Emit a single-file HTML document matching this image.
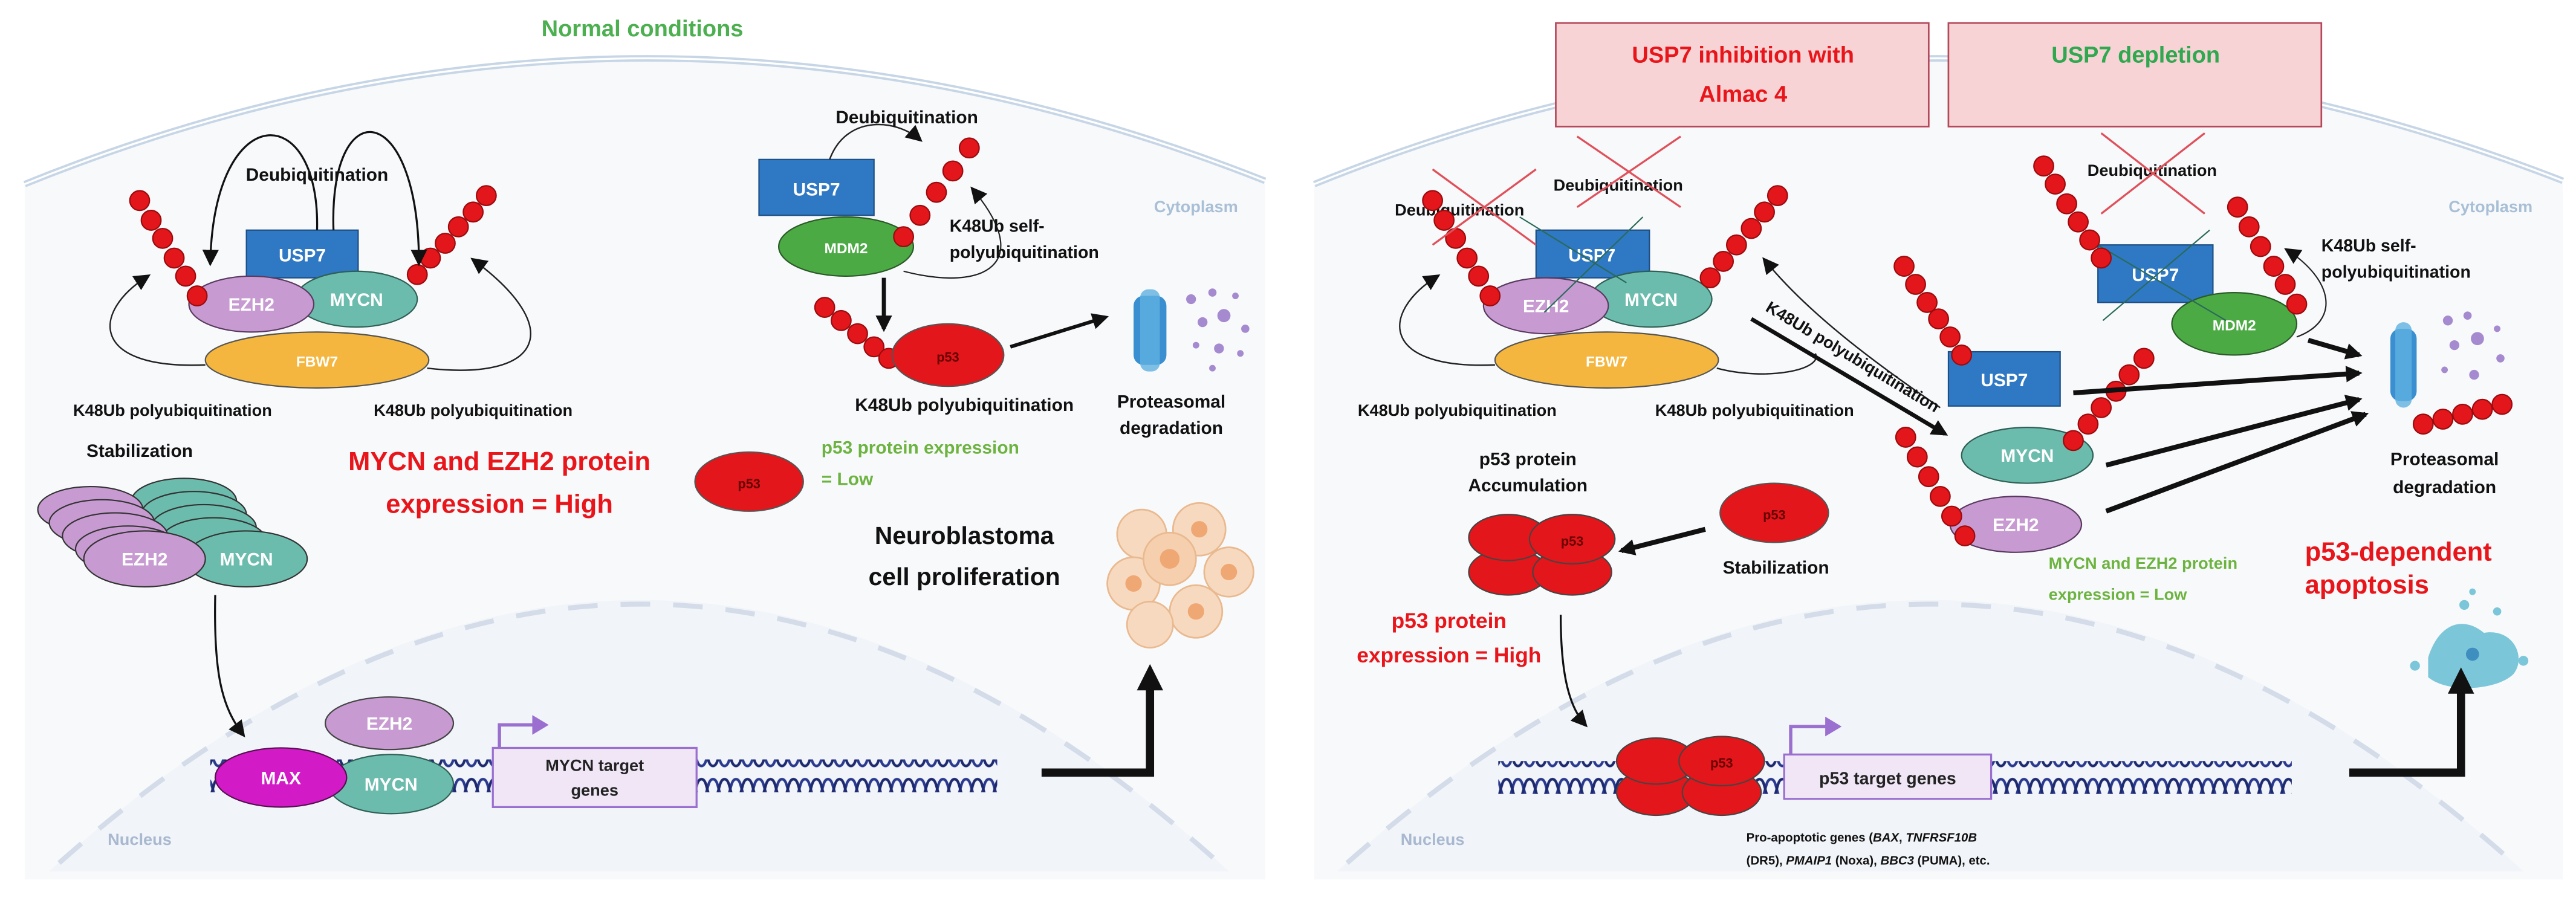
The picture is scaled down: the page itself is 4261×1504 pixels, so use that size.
<!DOCTYPE html>
<html><head><meta charset="utf-8">
<style>
html,body{margin:0;padding:0;background:#fff;}
svg{display:block;}
text{font-family:"Liberation Sans",sans-serif;font-weight:bold;}
</style></head>
<body>
<svg width="4261" height="1504" viewBox="0 0 1568 553" preserveAspectRatio="none" xmlns="http://www.w3.org/2000/svg">
<defs>
<marker id="ah" markerWidth="6" markerHeight="6" refX="5" refY="3" orient="auto" markerUnits="strokeWidth"><path d="M0,0 L6,3 L0,6 z" fill="#111"/></marker>
<marker id="ahs" markerWidth="10" markerHeight="10" refX="8" refY="5" orient="auto" markerUnits="userSpaceOnUse"><path d="M0,0 L10,5 L0,10 z" fill="#111"/></marker>
<marker id="ahb" markerWidth="12" markerHeight="12" refX="9" refY="6" orient="auto" markerUnits="userSpaceOnUse"><path d="M0,0 L12,6 L0,12 z" fill="#111"/></marker>
<pattern id="dna" width="14" height="20" patternUnits="userSpaceOnUse" y="-10">
<path d="M0,4 C4,4 3,16 7,16 C11,16 10,4 14,4" fill="none" stroke="#2a3a8f" stroke-width="1.6"/>
<path d="M0,16 C4,16 3,4 7,4 C11,4 10,16 14,16" fill="none" stroke="#1d2a70" stroke-width="1.6"/>
</pattern>
<circle id="u" r="6" fill="#e3161b" stroke="#9a0b0e" stroke-width="0.8"/>
</defs>

<!-- ===== LEFT CELL ===== -->
<path d="M15,112 Q391,-40 770,110 L770,535 L15,535 Z" fill="#f8f9fb"/>
<path d="M15,112 Q391,-40 770,110" fill="none" stroke="#c7d6e6" stroke-width="4"/>
<path d="M15,112 Q391,-40 770,110" fill="none" stroke="#fff" stroke-width="1.2"/>
<path d="M30,530 Q391,200 748,530 Z" fill="#f1f4f8"/>
<path d="M36,525 Q391,210 742,525" fill="none" stroke="#d3dce8" stroke-width="3" stroke-dasharray="18,14"/>
<text x="391" y="22" font-size="14" fill="#4caf50" text-anchor="middle">Normal conditions</text>
<text x="728" y="129" font-size="10" fill="#a8bfd6" text-anchor="middle" font-weight="normal">Cytoplasm</text>
<text x="85" y="514" font-size="10" fill="#a8b8d0" text-anchor="middle" font-weight="normal">Nucleus</text>

<!-- complex -->
<ellipse cx="193" cy="219" rx="68" ry="17" fill="#f4b63e" stroke="#555" stroke-width="0.8"/>
<text x="193" y="223" font-size="9" fill="#fff" text-anchor="middle">FBW7</text>
<rect x="150" y="140" width="68" height="29" fill="#2f78c4" stroke="#1d4f85" stroke-width="0.8"/>
<text x="184" y="159" font-size="11" fill="#fff" text-anchor="middle">USP7</text>
<ellipse cx="217" cy="182" rx="37" ry="17" fill="#6cbcae" stroke="#2f5f55" stroke-width="0.8"/>
<text x="217" y="186" font-size="11" fill="#fff" text-anchor="middle">MYCN</text>
<ellipse cx="153" cy="185" rx="38" ry="17" fill="#c79bd1" stroke="#5a3a60" stroke-width="0.8"/>
<text x="153" y="189" font-size="11" fill="#fff" text-anchor="middle">EZH2</text>
<use href="#u" x="85" y="122"/><use href="#u" x="92" y="134"/><use href="#u" x="99" y="145"/><use href="#u" x="106" y="157"/><use href="#u" x="113" y="168"/><use href="#u" x="120" y="180"/>
<use href="#u" x="254" y="167"/><use href="#u" x="262" y="157"/><use href="#u" x="271" y="148"/><use href="#u" x="279" y="138"/><use href="#u" x="288" y="129"/><use href="#u" x="296" y="119"/>
<path d="M193,140 C195,60 130,60 128,160" fill="none" stroke="#111" stroke-width="1.2" marker-end="url(#ahs)"/>
<path d="M203,140 C200,55 255,60 255,160" fill="none" stroke="#111" stroke-width="1.2" marker-end="url(#ahs)"/>
<text x="193" y="110" font-size="11" fill="#111" text-anchor="middle">Deubiquitination</text>
<path d="M125,222 C55,225 55,190 90,168" fill="none" stroke="#222" stroke-width="0.9" marker-end="url(#ahs)"/>
<path d="M260,224 C330,232 345,200 288,158" fill="none" stroke="#222" stroke-width="0.9" marker-end="url(#ahs)"/>
<text x="105" y="253" font-size="10" fill="#111" text-anchor="middle">K48Ub polyubiquitination</text>
<text x="288" y="253" font-size="10" fill="#111" text-anchor="middle">K48Ub polyubiquitination</text>
<text x="85" y="278" font-size="11" fill="#111" text-anchor="middle">Stabilization</text>

<!-- stack -->
<g stroke="#333" stroke-width="0.8">
<ellipse cx="112" cy="305" rx="32" ry="14" fill="#6cbcae"/>
<ellipse cx="118" cy="313" rx="32" ry="14" fill="#6cbcae"/>
<ellipse cx="124" cy="321" rx="32" ry="14" fill="#6cbcae"/>
<ellipse cx="130" cy="329" rx="32" ry="14" fill="#6cbcae"/>
<ellipse cx="55" cy="310" rx="32" ry="14" fill="#c79bd1"/>
<ellipse cx="62" cy="318" rx="32" ry="14" fill="#c79bd1"/>
<ellipse cx="70" cy="326" rx="32" ry="14" fill="#c79bd1"/>
<ellipse cx="78" cy="334" rx="32" ry="14" fill="#c79bd1"/>
<ellipse cx="150" cy="340" rx="37" ry="17" fill="#6cbcae"/>
<ellipse cx="88" cy="340" rx="37" ry="17" fill="#c79bd1"/>
</g>
<text x="88" y="344" font-size="11" fill="#fff" text-anchor="middle">EZH2</text>
<text x="150" y="344" font-size="11" fill="#fff" text-anchor="middle">MYCN</text>

<text x="304" y="286" font-size="16" fill="#e8161b" text-anchor="middle">MYCN and EZH2 protein</text>
<text x="304" y="312" font-size="16" fill="#e8161b" text-anchor="middle">expression = High</text>
<ellipse cx="456" cy="293" rx="33" ry="18" fill="#e3161b" stroke="#555" stroke-width="0.8"/>
<text x="456" y="297" font-size="8" fill="#600" text-anchor="middle" font-weight="normal">p53</text>
<text x="500" y="276" font-size="11" fill="#6cb33f">p53 protein expression</text>
<text x="500" y="295" font-size="11" fill="#6cb33f">= Low</text>

<!-- MDM2 -->
<rect x="462" y="97" width="70" height="34" fill="#2f78c4" stroke="#1d4f85" stroke-width="0.8"/>
<text x="497" y="119" font-size="11" fill="#fff" text-anchor="middle">USP7</text>
<ellipse cx="515" cy="150" rx="41" ry="18" fill="#4caa45" stroke="#2a5a27" stroke-width="0.8"/>
<text x="515" y="154" font-size="9" fill="#fff" text-anchor="middle">MDM2</text>
<use href="#u" x="550" y="144"/><use href="#u" x="560" y="131"/><use href="#u" x="570" y="117"/><use href="#u" x="580" y="104"/><use href="#u" x="590" y="90"/>
<path d="M505,97 C515,70 545,72 560,85" fill="none" stroke="#222" stroke-width="0.9" marker-end="url(#ahs)"/>
<text x="552" y="75" font-size="11" fill="#111" text-anchor="middle">Deubiquitination</text>
<path d="M550,165 C600,178 630,160 592,115" fill="none" stroke="#222" stroke-width="0.8" marker-end="url(#ahs)"/>
<text x="578" y="141" font-size="10.5" fill="#111">K48Ub self-</text>
<text x="578" y="157" font-size="10.5" fill="#111">polyubiquitination</text>
<line x1="538" y1="169" x2="538" y2="200" stroke="#111" stroke-width="2.5" marker-end="url(#ahs)"/>
<use href="#u" x="502" y="187"/><use href="#u" x="512" y="195"/><use href="#u" x="522" y="203"/><use href="#u" x="532" y="211"/><use href="#u" x="541" y="218"/>
<ellipse cx="577" cy="216" rx="34" ry="19" fill="#e3161b" stroke="#555" stroke-width="0.8"/>
<text x="577" y="220" font-size="8" fill="#600" text-anchor="middle" font-weight="normal">p53</text>
<line x1="615" y1="211" x2="673" y2="193" stroke="#111" stroke-width="2.2" marker-end="url(#ahs)"/>
<text x="587" y="250" font-size="11" fill="#111" text-anchor="middle">K48Ub polyubiquitination</text>
<text x="713" y="248" font-size="11" fill="#111" text-anchor="middle">Proteasomal</text>
<text x="713" y="264" font-size="11" fill="#111" text-anchor="middle">degradation</text>
<!-- proteasome -->
<g>
<rect x="690" y="180" width="20" height="42" rx="6" fill="#3a8fd0"/>
<rect x="694" y="176" width="12" height="50" rx="5" fill="#5fb0e0" opacity="0.8"/>
<g fill="#a58ad0"><circle cx="725" cy="182" r="3"/><circle cx="738" cy="178" r="2.5"/><circle cx="745" cy="192" r="4"/><circle cx="732" cy="196" r="3"/><circle cx="752" cy="180" r="2"/><circle cx="758" cy="200" r="2.5"/><circle cx="728" cy="210" r="2"/><circle cx="742" cy="212" r="3"/><circle cx="755" cy="215" r="2"/><circle cx="738" cy="224" r="2"/></g>
</g>
<text x="587" y="331" font-size="15" fill="#111" text-anchor="middle">Neuroblastoma</text>
<text x="587" y="356" font-size="15" fill="#111" text-anchor="middle">cell proliferation</text>
<!-- cells cluster -->
<g stroke="#e9b98f" stroke-width="1">
<circle cx="695" cy="325" r="15" fill="#f7d9bf"/><circle cx="730" cy="322" r="16" fill="#f7d9bf"/><circle cx="748" cy="348" r="15" fill="#f7d9bf"/>
<circle cx="690" cy="355" r="16" fill="#f7d9bf"/><circle cx="712" cy="340" r="16" fill="#f5cfae"/><circle cx="728" cy="372" r="16" fill="#f7d9bf"/><circle cx="700" cy="380" r="14" fill="#f7d9bf"/>
</g>
<g fill="#efa874"><circle cx="712" cy="340" r="6"/><circle cx="690" cy="355" r="5"/><circle cx="728" cy="372" r="5"/><circle cx="730" cy="322" r="5"/><circle cx="748" cy="348" r="5"/></g>

<path d="M131,362 C130,410 135,430 148,447" fill="none" stroke="#111" stroke-width="1.2" marker-end="url(#ahs)"/>
<!-- DNA -->
<rect x="128" y="462" width="479" height="20" fill="url(#dna)"/>
<ellipse cx="237" cy="440" rx="39" ry="16" fill="#c79bd1" stroke="#444" stroke-width="0.8"/>
<text x="237" y="444" font-size="11" fill="#fff" text-anchor="middle">EZH2</text>
<ellipse cx="238" cy="477" rx="38" ry="18" fill="#6cbcae" stroke="#2f5f55" stroke-width="0.8"/>
<text x="238" y="481" font-size="11" fill="#fff" text-anchor="middle">MYCN</text>
<ellipse cx="171" cy="473" rx="40" ry="18" fill="#d31ac7" stroke="#551050" stroke-width="0.8"/>
<text x="171" y="477" font-size="11" fill="#fff" text-anchor="middle">MAX</text>
<rect x="300" y="455" width="124" height="36" fill="#f0e6f6" stroke="#9a6fcf" stroke-width="1.2"/>
<text x="362" y="469" font-size="10" fill="#222" text-anchor="middle">MYCN target</text>
<text x="362" y="484" font-size="10" fill="#222" text-anchor="middle">genes</text>
<path d="M304,455 L304,441 L326,441" fill="none" stroke="#9a6fcf" stroke-width="2"/>
<path d="M324,435 L334,441 L324,447 z" fill="#9a6fcf"/>
<path d="M634,470 L700,470 L700,418" fill="none" stroke="#111" stroke-width="5"/>
<path d="M692,420 L700,404 L708,420 z" fill="#111"/>

<!-- ===== RIGHT CELL ===== -->
<path d="M800,112 Q1175,-40 1560,110 L1560,535 L800,535 Z" fill="#f8f9fb"/>
<path d="M800,112 Q1175,-40 1560,110" fill="none" stroke="#c7d6e6" stroke-width="4"/>
<path d="M800,112 Q1175,-40 1560,110" fill="none" stroke="#fff" stroke-width="1.2"/>
<path d="M814,530 Q1176,200 1536,530 Z" fill="#f1f4f8"/>
<path d="M820,525 Q1176,210 1530,525" fill="none" stroke="#d3dce8" stroke-width="3" stroke-dasharray="18,14"/>
<text x="1516" y="129" font-size="10" fill="#a8bfd6" text-anchor="middle" font-weight="normal">Cytoplasm</text>
<text x="872" y="514" font-size="10" fill="#a8b8d0" text-anchor="middle" font-weight="normal">Nucleus</text>

<rect x="947" y="14" width="227" height="63" fill="#f8d3d6" stroke="#b5485a" stroke-width="1"/>
<rect x="1186" y="14" width="227" height="63" fill="#f8d3d6" stroke="#b5485a" stroke-width="1"/>
<text x="1061" y="38" font-size="14" fill="#e8161b" text-anchor="middle">USP7 inhibition with</text>
<text x="1061" y="62" font-size="14" fill="#e8161b" text-anchor="middle">Almac 4</text>
<text x="1300" y="38" font-size="14" fill="#2fa84f" text-anchor="middle">USP7 depletion</text>

<!-- left complex right panel -->
<ellipse cx="978" cy="219" rx="68" ry="17" fill="#f4b63e" stroke="#555" stroke-width="0.8"/>
<text x="978" y="223" font-size="9" fill="#fff" text-anchor="middle">FBW7</text>
<rect x="935" y="140" width="69" height="29" fill="#2f78c4" stroke="#1d4f85" stroke-width="0.8"/>
<text x="969" y="159" font-size="11" fill="#fff" text-anchor="middle">USP7</text>
<ellipse cx="1005" cy="182" rx="37" ry="17" fill="#6cbcae" stroke="#2f5f55" stroke-width="0.8"/>
<text x="1005" y="186" font-size="11" fill="#fff" text-anchor="middle">MYCN</text>
<ellipse cx="941" cy="186" rx="38" ry="17" fill="#c79bd1" stroke="#5a3a60" stroke-width="0.8"/>
<text x="941" y="190" font-size="11" fill="#fff" text-anchor="middle">EZH2</text>
<line x1="925" y1="132" x2="990" y2="172" stroke="#2a6a5a" stroke-width="0.8"/>
<line x1="1000" y1="132" x2="940" y2="190" stroke="#2a6a5a" stroke-width="0.8"/>
<text x="849" y="131" font-size="10" fill="#111">Deubiquitination</text>
<text x="985" y="116" font-size="10" fill="#111" text-anchor="middle">Deubiquitination</text>
<use href="#u" x="872" y="122"/><use href="#u" x="879" y="134"/><use href="#u" x="886" y="145"/><use href="#u" x="893" y="157"/><use href="#u" x="900" y="168"/><use href="#u" x="907" y="180"/>
<use href="#u" x="1041" y="169"/><use href="#u" x="1049" y="159"/><use href="#u" x="1057" y="149"/><use href="#u" x="1066" y="139"/><use href="#u" x="1074" y="129"/><use href="#u" x="1082" y="119"/>
<g stroke="#e0505a" stroke-width="1.2"><line x1="960" y1="83" x2="1023" y2="126"/><line x1="1023" y1="83" x2="960" y2="126"/><line x1="872" y1="103" x2="935" y2="149"/><line x1="935" y1="103" x2="872" y2="149"/></g>
<path d="M910,222 C840,225 840,190 875,168" fill="none" stroke="#222" stroke-width="0.9" marker-end="url(#ahs)"/>
<path d="M1045,224 C1075,232 1110,225 1105,215" fill="none" stroke="#222" stroke-width="0.9"/>
<text x="887" y="253" font-size="10" fill="#111" text-anchor="middle">K48Ub polyubiquitination</text>
<text x="1068" y="253" font-size="10" fill="#111" text-anchor="middle">K48Ub polyubiquitination</text>
<line x1="1066" y1="194" x2="1184" y2="264" stroke="#111" stroke-width="2.5" marker-end="url(#ahs)"/>
<path d="M1181,248 C1140,220 1100,190 1074,158" fill="none" stroke="#222" stroke-width="0.9" marker-end="url(#ahs)"/>
<text x="1126" y="220" font-size="10" fill="#111" text-anchor="middle" transform="rotate(31 1126 220)">K48Ub polyubiquitination</text>

<!-- degraded proteins -->
<rect x="1186" y="214" width="68" height="33" fill="#2f78c4" stroke="#1d4f85" stroke-width="0.8"/>
<text x="1220" y="235" font-size="11" fill="#fff" text-anchor="middle">USP7</text>
<use href="#u" x="1159" y="162"/><use href="#u" x="1166" y="173"/><use href="#u" x="1173" y="184"/><use href="#u" x="1180" y="194"/><use href="#u" x="1187" y="205"/><use href="#u" x="1194" y="216"/>
<ellipse cx="1234" cy="277" rx="40" ry="17" fill="#6cbcae" stroke="#2f5f55" stroke-width="0.8"/>
<text x="1234" y="281" font-size="11" fill="#fff" text-anchor="middle">MYCN</text>
<use href="#u" x="1262" y="268"/><use href="#u" x="1271" y="258"/><use href="#u" x="1279" y="248"/><use href="#u" x="1288" y="238"/><use href="#u" x="1296" y="228"/><use href="#u" x="1305" y="218"/>
<ellipse cx="1227" cy="319" rx="40" ry="17" fill="#c79bd1" stroke="#5a3a60" stroke-width="0.8"/>
<text x="1227" y="323" font-size="11" fill="#fff" text-anchor="middle">EZH2</text>
<use href="#u" x="1160" y="266"/><use href="#u" x="1167" y="278"/><use href="#u" x="1174" y="290"/><use href="#u" x="1181" y="302"/><use href="#u" x="1188" y="314"/><use href="#u" x="1196" y="326"/>

<rect x="1277" y="149" width="70" height="35" fill="#2f78c4" stroke="#1d4f85" stroke-width="0.8"/>
<text x="1312" y="171" font-size="11" fill="#fff" text-anchor="middle">USP7</text>
<ellipse cx="1360" cy="197" rx="38" ry="19" fill="#4caa45" stroke="#2a5a27" stroke-width="0.8"/>
<text x="1360" y="201" font-size="9" fill="#fff" text-anchor="middle">MDM2</text>
<line x1="1270" y1="145" x2="1355" y2="195" stroke="#2a6a5a" stroke-width="0.8"/>
<line x1="1345" y1="140" x2="1280" y2="195" stroke="#2a6a5a" stroke-width="0.8"/>
<use href="#u" x="1244" y="101"/><use href="#u" x="1251" y="112"/><use href="#u" x="1258" y="124"/><use href="#u" x="1265" y="135"/><use href="#u" x="1272" y="146"/><use href="#u" x="1279" y="157"/>
<use href="#u" x="1362" y="126"/><use href="#u" x="1369" y="138"/><use href="#u" x="1376" y="150"/><use href="#u" x="1384" y="162"/><use href="#u" x="1391" y="173"/><use href="#u" x="1398" y="185"/>
<text x="1310" y="107" font-size="10" fill="#111" text-anchor="middle">Deubiquitination</text>
<g stroke="#e0505a" stroke-width="1.2"><line x1="1279" y1="81" x2="1342" y2="130"/><line x1="1342" y1="81" x2="1279" y2="130"/></g>
<path d="M1398,205 C1425,195 1420,170 1392,152" fill="none" stroke="#222" stroke-width="0.8" marker-end="url(#ahs)"/>
<text x="1413" y="153" font-size="10.5" fill="#111">K48Ub self-</text>
<text x="1413" y="169" font-size="10.5" fill="#111">polyubiquitination</text>

<g stroke="#111" stroke-width="3">
<line x1="1405" y1="207" x2="1436" y2="216" marker-end="url(#ahs)"/>
<line x1="1262" y1="239" x2="1436" y2="227" marker-end="url(#ahs)"/>
<line x1="1282" y1="283" x2="1436" y2="243" marker-end="url(#ahs)"/>
<line x1="1282" y1="311" x2="1440" y2="252" marker-end="url(#ahs)"/>
</g>
<rect x="1455" y="200" width="16" height="44" rx="6" fill="#3a8fd0"/>
<rect x="1458" y="196" width="10" height="52" rx="5" fill="#5fb0e0" opacity="0.8"/>
<g fill="#a58ad0"><circle cx="1490" cy="195" r="3"/><circle cx="1502" cy="192" r="2.5"/><circle cx="1508" cy="206" r="4"/><circle cx="1494" cy="210" r="3"/><circle cx="1520" cy="200" r="2"/><circle cx="1522" cy="218" r="2.5"/><circle cx="1488" cy="225" r="2"/><circle cx="1506" cy="228" r="3"/></g>
<use href="#u" x="1475" y="258"/><use href="#u" x="1487" y="255"/><use href="#u" x="1499" y="252"/><use href="#u" x="1511" y="249"/><use href="#u" x="1523" y="246"/>
<text x="1488" y="283" font-size="11" fill="#111" text-anchor="middle">Proteasomal</text>
<text x="1488" y="300" font-size="11" fill="#111" text-anchor="middle">degradation</text>

<text x="930" y="283" font-size="11" fill="#111" text-anchor="middle">p53 protein</text>
<text x="930" y="299" font-size="11" fill="#111" text-anchor="middle">Accumulation</text>
<g stroke="#444" stroke-width="0.8" fill="#e3161b">
<ellipse cx="918" cy="348" rx="24" ry="14"/><ellipse cx="957" cy="348" rx="24" ry="14"/>
<ellipse cx="918" cy="327" rx="24" ry="14"/><ellipse cx="957" cy="328" rx="26" ry="15"/>
</g>
<text x="957" y="332" font-size="8" fill="#600" text-anchor="middle" font-weight="normal">p53</text>
<line x1="1038" y1="322" x2="987" y2="335" stroke="#111" stroke-width="3" marker-end="url(#ahs)"/>
<ellipse cx="1080" cy="312" rx="33" ry="18" fill="#e3161b" stroke="#555" stroke-width="0.8"/>
<text x="1080" y="316" font-size="8" fill="#600" text-anchor="middle" font-weight="normal">p53</text>
<text x="1081" y="349" font-size="11" fill="#111" text-anchor="middle">Stabilization</text>
<text x="882" y="382" font-size="13" fill="#e8161b" text-anchor="middle">p53 protein</text>
<text x="882" y="403" font-size="13" fill="#e8161b" text-anchor="middle">expression = High</text>
<text x="1247" y="346" font-size="10" fill="#6cb33f">MYCN and EZH2 protein</text>
<text x="1247" y="365" font-size="10" fill="#6cb33f">expression = Low</text>
<text x="1403" y="341" font-size="16" fill="#e8161b">p53-dependent</text>
<text x="1403" y="361" font-size="16" fill="#e8161b">apoptosis</text>
<g fill="#7cc6da"><path d="M1478,400 C1485,378 1500,375 1512,385 C1530,382 1538,400 1530,410 C1520,420 1490,422 1478,412 Z"/><circle cx="1500" cy="368" r="3"/><circle cx="1520" cy="372" r="2.5"/><circle cx="1536" cy="402" r="3"/><circle cx="1470" cy="405" r="3"/><circle cx="1505" cy="360" r="2"/></g>
<circle cx="1505" cy="398" r="4" fill="#3e8fc0"/>

<path d="M950,374 C950,410 955,430 965,441" fill="none" stroke="#111" stroke-width="1.2" marker-end="url(#ahs)"/>
<rect x="912" y="463" width="483" height="20" fill="url(#dna)"/>
<g stroke="#444" stroke-width="0.8" fill="#e3161b">
<ellipse cx="1008" cy="482" rx="24" ry="14"/><ellipse cx="1048" cy="482" rx="24" ry="14"/>
<ellipse cx="1008" cy="463" rx="24" ry="14"/><ellipse cx="1048" cy="463" rx="26" ry="15"/>
</g>
<text x="1048" y="467" font-size="8" fill="#600" text-anchor="middle" font-weight="normal">p53</text>
<rect x="1086" y="459" width="126" height="27" fill="#f0e6f6" stroke="#9a6fcf" stroke-width="1.2"/>
<text x="1149" y="477" font-size="10.5" fill="#222" text-anchor="middle">p53 target genes</text>
<path d="M1090,459 L1090,442 L1113,442" fill="none" stroke="#9a6fcf" stroke-width="2"/>
<path d="M1111,436 L1121,442 L1111,448 z" fill="#9a6fcf"/>
<text x="1063" y="512" font-size="7.5" fill="#111" font-weight="normal">Pro-apoptotic genes (<tspan font-style="italic">BAX</tspan>, <tspan font-style="italic">TNFRSF10B</tspan></text>
<text x="1063" y="526" font-size="7.5" fill="#111" font-weight="normal">(DR5), <tspan font-style="italic">PMAIP1</tspan> (Noxa), <tspan font-style="italic">BBC3</tspan> (PUMA), etc.</text>
<path d="M1430,470 L1498,470 L1498,420" fill="none" stroke="#111" stroke-width="5"/>
<path d="M1490,422 L1498,406 L1506,422 z" fill="#111"/>
</svg>
</body></html>
